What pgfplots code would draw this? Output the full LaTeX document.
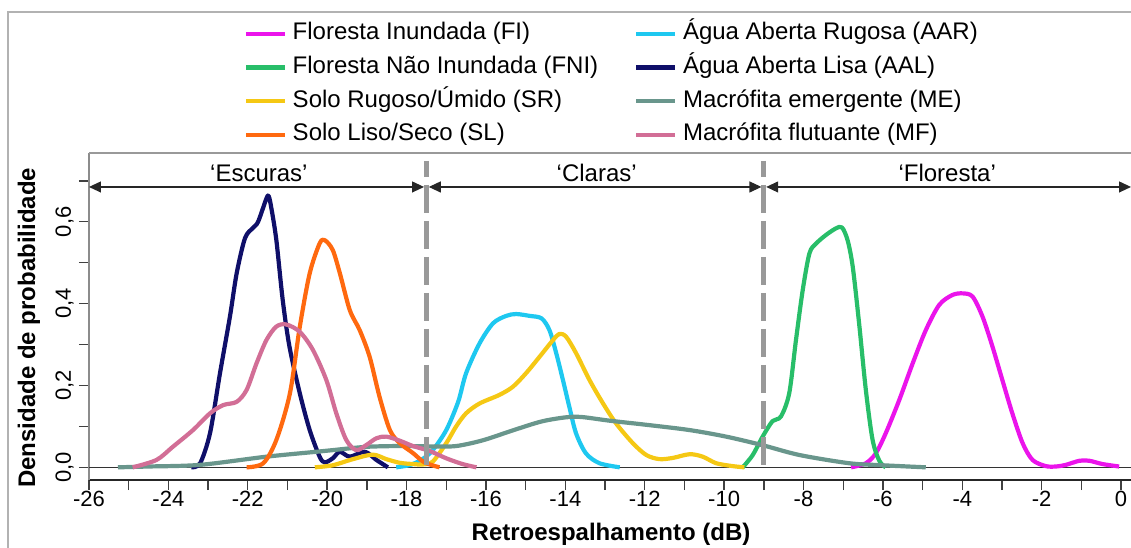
\documentclass[border=0pt]{standalone}
\usepackage{fontspec}
\setmainfont{Liberation Sans}
\usepackage{pgfplots}
\pgfplotsset{compat=1.18}
\usetikzlibrary{arrows.meta}
\definecolor{cFI}{RGB}{235,20,235}
\definecolor{cFNI}{RGB}{40,190,105}
\definecolor{cSR}{RGB}{245,200,20}
\definecolor{cSL}{RGB}{255,105,15}
\definecolor{cAAR}{RGB}{30,200,240}
\definecolor{cAAL}{RGB}{15,15,105}
\definecolor{cME}{RGB}{105,150,140}
\definecolor{cMF}{RGB}{210,110,150}
\newcommand{\lfont}{\fontsize{12bp}{14bp}\selectfont}
\newcommand{\tfont}{\fontsize{11bp}{13bp}\selectfont}
\begin{document}
\begin{tikzpicture}
\begin{axis}[
  at={(0,0)}, anchor=south west,
  scale only axis, width=521bp, height=163.5bp,
  xmin=-26, xmax=0.25, ymin=-0.031, ymax=0.768,
  clip=false,
  axis x line*=bottom, axis y line*=left,
  x axis line style={black!85, line width=0.8bp, -},
  y axis line style={black!45, line width=1bp, -},
  tick align=outside,
  xtick={-26,-24,...,0}, minor xtick={-25,-23,...,-1},
  ytick={0,0.2,0.4,0.6}, minor ytick={0.1,0.3,0.5,0.7},
  major tick length=5bp, minor tick length=5bp,
  tick style={black!75, line width=0.7bp},
  /pgf/number format/assume math mode=true,
  xticklabel style={font=\tfont, inner sep=0pt, anchor=north, yshift=-0.5bp},
  yticklabel style={font=\tfont, rotate=90, anchor=south, inner sep=2.5bp,
    /pgf/number format/.cd, fixed, fixed zerofill, precision=1, use comma},
  xlabel={Retroespalhamento (dB)},
  ylabel={Densidade de probabilidade},
  label style={font=\bfseries\lfont},
  xlabel style={at={(axis description cs:0.501,-0.1835)}, anchor=base},
  ylabel style={at={(axis description cs:-0.0518,0.465)}, anchor=base},
  legend columns=2,
  legend cell align=left,
  legend image code/.code={\draw[#1] (0bp,0bp) -- (19.5bp,0bp);},
  legend style={at={(axis description cs:0.1487,1.4006)}, anchor=north west,
    draw=none, fill=none, inner sep=0pt, outer sep=0pt, font=\lfont,
    row sep=4.8bp, column sep=0pt,
    /tikz/every even column/.append style={column sep=15.2bp},
    nodes={inner xsep=2.8bp, inner ysep=0pt, text height=9bp, text depth=3bp}},
  every axis plot/.append style={line width=2.1bp, line join=round, smooth, tension=0.5},
]
\draw[black!80, line width=0.6bp] (axis cs:-26,0) -- (axis cs:0.25,0);

\addplot[cFI] coordinates {(-6.8,0) (-6.43,0.01) (-6.18,0.034) (-5.93,0.083) (-5.59,0.164) (-5.25,0.254) (-4.92,0.335) (-4.58,0.397) (-4.25,0.421) (-3.99,0.425) (-3.74,0.417) (-3.49,0.368) (-3.24,0.295) (-2.99,0.213) (-2.74,0.132) (-2.48,0.059) (-2.23,0.018) (-1.9,0.003) (-1.64,0.002) (-1.39,0.006) (-1.05,0.016) (-0.8,0.016) (-0.47,0.008) (-0.05,0.002)};
\addlegendentry{Floresta Inundada (FI)}

\addplot[cAAR] coordinates {(-18.26,0) (-17.9,0.006) (-17.6,0.02) (-17.34,0.042) (-17.0,0.091) (-16.7,0.16) (-16.5,0.23) (-16.16,0.303) (-15.82,0.352) (-15.49,0.37) (-15.24,0.3745) (-14.9,0.37) (-14.6,0.364) (-14.4,0.335) (-14.23,0.279) (-14.06,0.213) (-13.9,0.148) (-13.73,0.083) (-13.48,0.034) (-13.14,0.01) (-12.63,0)};
\addlegendentry{Água Aberta Rugosa (AAR)}

\addplot[cFNI] coordinates {(-9.53,0) (-9.28,0.03) (-9.03,0.075) (-8.78,0.113) (-8.57,0.124) (-8.36,0.181) (-8.19,0.311) (-8.02,0.433) (-7.85,0.523) (-7.68,0.547) (-7.43,0.568) (-7.18,0.584) (-7.03,0.586) (-6.89,0.555) (-6.76,0.49) (-6.6,0.352) (-6.43,0.189) (-6.26,0.067) (-6.09,0.016) (-5.93,0)};
\addlegendentry{Floresta Não Inundada (FNI)}

\addplot[cAAL] coordinates {(-23.42,0) (-23.2,0.01) (-22.95,0.084) (-22.7,0.23) (-22.45,0.368) (-22.28,0.474) (-22.07,0.56) (-21.87,0.585) (-21.74,0.60) (-21.53,0.657) (-21.47,0.662) (-21.4,0.63) (-21.28,0.555) (-21.12,0.409) (-20.95,0.295) (-20.69,0.181) (-20.44,0.091) (-20.19,0.026) (-20.06,0.012) (-19.86,0.022) (-19.68,0.038) (-19.43,0.026) (-19.05,0.038) (-18.76,0.018) (-18.47,0)};
\addlegendentry{Água Aberta Lisa (AAL)}

\addplot[cSR] coordinates {(-20.31,0) (-19.86,0.005) (-19.35,0.02) (-18.85,0.031) (-18.51,0.02) (-18.17,0.011) (-17.84,0.008) (-17.59,0.007) (-17.34,0.014) (-17.0,0.059) (-16.75,0.1) (-16.5,0.132) (-16.16,0.156) (-15.66,0.177) (-15.32,0.197) (-14.99,0.23) (-14.65,0.27) (-14.31,0.311) (-14.15,0.326) (-13.98,0.319) (-13.73,0.279) (-13.39,0.213) (-13.05,0.156) (-12.72,0.107) (-12.3,0.059) (-11.96,0.03) (-11.63,0.02) (-11.29,0.023) (-10.87,0.032) (-10.54,0.026) (-10.2,0.01) (-9.79,0.003) (-9.49,0)};
\addlegendentry{Solo Rugoso/Úmido (SR)}

\addplot[cME] coordinates {(-25.27,0) (-24.5,0.002) (-23.2,0.006) (-21.53,0.026) (-20.27,0.038) (-19.86,0.042) (-19.02,0.05) (-18.17,0.052) (-17.34,0.051) (-16.75,0.052) (-16.08,0.066) (-15.3,0.091) (-14.6,0.112) (-14.0,0.122) (-13.6,0.123) (-12.89,0.114) (-11.88,0.103) (-10.87,0.091) (-9.95,0.075) (-9.03,0.054) (-8.1,0.03) (-6.85,0.01) (-6.01,0.005) (-4.92,0)};
\addlegendentry{Macrófita emergente (ME)}

\addplot[cSL] coordinates {(-22.03,0) (-21.61,0.01) (-21.28,0.067) (-20.94,0.18) (-20.69,0.343) (-20.44,0.474) (-20.19,0.547) (-20.06,0.555) (-19.86,0.531) (-19.68,0.474) (-19.43,0.384) (-19.18,0.335) (-18.93,0.27) (-18.68,0.172) (-18.42,0.091) (-18.17,0.059) (-17.84,0.035) (-17.55,0.012) (-17.17,0)};
\addlegendentry{Solo Liso/Seco (SL)}

\addplot[cMF] coordinates {(-24.9,0) (-24.3,0.018) (-23.89,0.05) (-23.38,0.091) (-22.95,0.132) (-22.62,0.152) (-22.28,0.16) (-22.03,0.189) (-21.78,0.254) (-21.53,0.311) (-21.28,0.344) (-21.03,0.349) (-20.69,0.331) (-20.36,0.287) (-20.02,0.213) (-19.77,0.132) (-19.52,0.067) (-19.27,0.042) (-19.02,0.054) (-18.76,0.071) (-18.51,0.075) (-18.17,0.065) (-17.84,0.052) (-17.42,0.040) (-17.0,0.022) (-16.59,0.008) (-16.24,0)};
\addlegendentry{Macrófita flutuante (MF)}

\draw[black!40, line width=1bp] (axis cs:-26,0.768) -- (axis cs:0.25,0.768);
\draw[gray!80, line width=2.6bp, dash pattern=on 14bp off 4bp, dash phase=6bp] (axis cs:-17.5,0.749) -- (axis cs:-17.5,0);
\draw[gray!80, line width=2.6bp, dash pattern=on 14bp off 4bp, dash phase=6bp] (axis cs:-9,0.749) -- (axis cs:-9,0);
\tikzset{regarrow/.style={black!85, line width=0.6bp, {Triangle[length=6bp,width=5.5bp]}-{Triangle[length=6bp,width=5.5bp]}}}
\draw[regarrow] (axis cs:-26,0.685) -- (axis cs:-17.56,0.685);
\draw[regarrow] (axis cs:-17.44,0.685) -- (axis cs:-9.06,0.685);
\draw[regarrow] (axis cs:-8.94,0.685) -- (axis cs:0.25,0.685);
\node[font=\lfont, anchor=base, inner sep=0pt] at (axis cs:-21.72,0.698) {‘Escuras’};
\node[font=\lfont, anchor=base, inner sep=0pt] at (axis cs:-13.21,0.698) {‘Claras’};
\node[font=\lfont, anchor=base, inner sep=0pt] at (axis cs:-4.38,0.698) {‘Floresta’};
\end{axis}
\draw[black!30, line width=1bp] (-40.5bp,-40bp) -- (-40.5bp,234bp) -- (530bp,234bp);
\pgfresetboundingbox
\path[use as bounding box] (-44.5bp,-34bp) rectangle (521bp,240bp);
\end{tikzpicture}
\end{document}
